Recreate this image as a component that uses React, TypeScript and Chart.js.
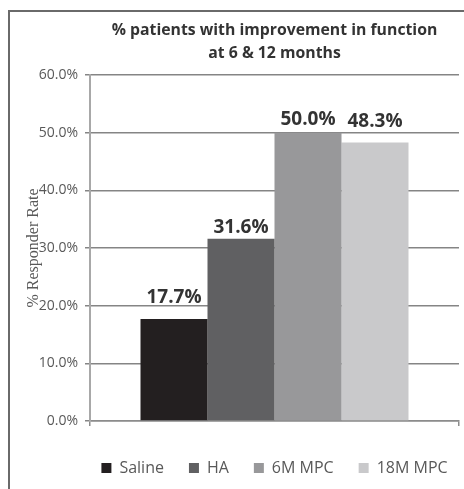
import React, { useEffect, useRef } from "react";
import { Chart, registerables } from "chart.js";

Chart.register(...registerables);

const categories = ["Responder Rate"];
const seriesNames = ["Saline", "HA", "6M MPC", "18M MPC"];
const salineValues = [17.7];
const haValues = [31.6];
const mpc6Values = [50.0];
const mpc18Values = [48.3];
const yTickLabels = ["0.0%", "10.0%", "20.0%", "30.0%", "40.0%", "50.0%", "60.0%"];
const titleLines = ["% patients with improvement in function", "at 6 & 12 months"];
const yAxisTitle = "% Responder Rate";

const seriesColors = ["#231f20", "#606062", "#98989a", "#c9c9cb"];
const labelLift = [16, 6, 8, 15];

const barValueLabels = {
  id: "barValueLabels",
  afterDatasetsDraw(chart: any, _args: any, opts: any) {
    const ctx = chart.ctx;
    ctx.save();
    ctx.font = 'bold 19px "Open Sans"';
    ctx.fillStyle = "#333333";
    ctx.textAlign = "center";
    ctx.textBaseline = "alphabetic";
    chart.data.datasets.forEach((ds: any, i: number) => {
      const meta = chart.getDatasetMeta(i);
      meta.data.forEach((bar: any, j: number) => {
        const v = ds.data[j];
        const lift = (opts.lift && opts.lift[i]) || 6;
        ctx.fillText(v.toFixed(1) + "%", bar.x, bar.y - lift);
      });
    });
    ctx.restore();
  },
};

// keep the legend on one row (its items are wider than the plot area once padded)
const legendOneRow = {
  id: "legendOneRow",
  beforeInit(chart: any) {
    const legend = chart.legend;
    if (!legend) return;
    const fit = legend.fit;
    legend.fit = function () {
      const mw = this.maxWidth;
      this.maxWidth = mw + 80;
      fit.call(this);
      this.maxWidth = mw;
      this.width = Math.min(this.width, mw);
    };
  },
  afterLayout(chart: any) {
    const lg = chart.legend;
    if (!lg) return;
    lg.left -= 40;
    lg.right += 40;
  },
};

export default function App() {
  const canvasRef = useRef<HTMLCanvasElement | null>(null);

  useEffect(() => {
    if (!canvasRef.current) return;
    Chart.defaults.font.family = "'Open Sans', sans-serif";
    const seriesValues = [salineValues, haValues, mpc6Values, mpc18Values];
    const chart = new Chart(canvasRef.current, {
      type: "bar",
      data: {
        labels: categories,
        datasets: seriesNames.map((name, i) => ({
          label: name,
          data: seriesValues[i],
          backgroundColor: seriesColors[i],
          borderWidth: 0,
          categoryPercentage: 0.7263,
          barPercentage: 1,
        })),
      },
      options: {
        responsive: false,
        animation: false,
        layout: { padding: { left: 0, right: 5, top: 0, bottom: 3 } },
        plugins: {
          tooltip: { enabled: false },
          title: {
            display: true,
            text: titleLines,
            fullSize: false,
            color: "#333333",
            font: { family: "'Open Sans'", size: 15.8, weight: "bold", lineHeight: 23 / 15.8 },
            padding: { top: 6.5, bottom: 10.5 },
          },
          legend: {
            display: true,
            position: "bottom",
            fullSize: false,
            labels: {
              color: "#595959",
              font: { family: "'Open Sans'", size: 16 },
              boxWidth: 10,
              boxHeight: 10,
              padding: 25,
            },
          },
          barValueLabels: { lift: labelLift },
        } as any,
        scales: {
          x: {
            offset: true,
            ticks: { display: false },
            grid: {
              display: true,
              drawOnChartArea: false,
              drawTicks: true,
              tickLength: 5,
              color: "#8c8c8c",
              lineWidth: 1.5,
              offset: true,
            },
            border: { display: true, color: "#8c8c8c", width: 1.5 },
            afterFit: (s: any) => {
              s.height = 14;
            },
          },
          y: {
            min: 0,
            max: 60,
            ticks: {
              stepSize: 10,
              color: "#595959",
              padding: 7,
              font: { family: "'Open Sans'", size: 14 },
              callback: (_v: any, idx: number) => yTickLabels[idx],
            },
            grid: { color: "#858585", lineWidth: 1.5, tickLength: 5, drawTicks: true },
            border: { display: true, color: "#a8a8a8", width: 2 },
            title: {
              display: true,
              text: yAxisTitle,
              color: "#595959",
              font: { family: "'Liberation Serif', serif", size: 16 },
              padding: { top: 14, bottom: 0 },
            },
            afterFit: (s: any) => {
              s.width = 80;
            },
          },
        },
      },
      plugins: [legendOneRow, barValueLabels],
    } as any);
    return () => chart.destroy();
  }, []);

  return (
    <div
      style={{
        position: "fixed",
        left: 8,
        top: 10,
        borderLeft: "2px solid #6a6a6a",
        borderTop: "2px solid #6a6a6a",
        width: 454,
        height: 477,
        background: "#ffffff",
      }}
    >
      <canvas ref={canvasRef} width={454} height={477} style={{ display: "block", width: 454, height: 477 }} />
    </div>
  );
}
